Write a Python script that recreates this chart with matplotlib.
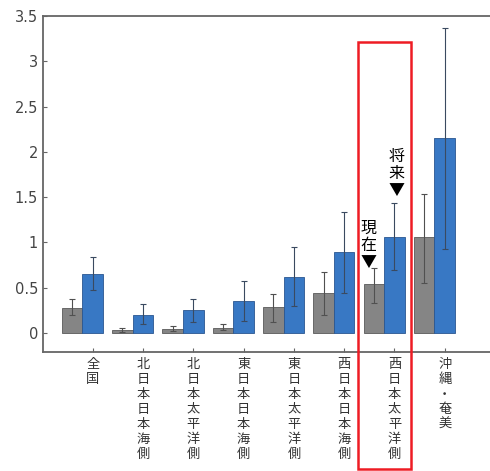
import matplotlib
matplotlib.use('Agg')
import matplotlib.pyplot as plt
import matplotlib.patches as patches
import numpy as np

plt.rcParams['font.family'] = ['Noto Sans CJK JP', 'DejaVu Sans']

# 地域
regions = ['全国', '北日本日本海側', '北日本太平洋側', '東日本日本海側',
           '東日本太平洋側', '西日本日本海側', '西日本太平洋側', '沖縄・奄美']

# 現在（灰）と将来（青）の値とエラーバー範囲
now_val = [0.28, 0.03, 0.045, 0.06, 0.29, 0.44, 0.54, 1.06]
now_low = [0.20, 0.01, 0.02, 0.03, 0.125, 0.20, 0.33, 0.55]
now_high = [0.375, 0.05, 0.08, 0.10, 0.43, 0.67, 0.72, 1.54]

fut_val = [0.65, 0.20, 0.25, 0.35, 0.62, 0.89, 1.06, 2.15]
fut_low = [0.47, 0.10, 0.12, 0.13, 0.30, 0.44, 0.69, 0.93]
fut_high = [0.84, 0.32, 0.38, 0.57, 0.95, 1.34, 1.44, 3.37]

yticks = [0, 0.5, 1, 1.5, 2, 2.5, 3, 3.5]
ytick_labels = ['0', '0.5', '1', '1.5', '2', '2.5', '3', '3.5']

x = np.arange(len(regions))
w = 0.41

fig = plt.figure(figsize=(4.9, 4.71), dpi=100)
ax = fig.add_axes([43 / 490, 1 - 352 / 471, 1 - 43 / 490, (352 - 16) / 471])

now_val = np.array(now_val)
fut_val = np.array(fut_val)
now_err = [now_val - np.array(now_low), np.array(now_high) - now_val]
fut_err = [fut_val - np.array(fut_low), np.array(fut_high) - fut_val]

ax.bar(x - w, now_val, width=w, color='#858585', edgecolor='#5a5a5a', linewidth=0.6,
       yerr=now_err, error_kw=dict(ecolor='#505050', elinewidth=0.8, capsize=2, capthick=0.8))
ax.bar(x, fut_val, width=w, color='#3878c4', edgecolor='#2a5690', linewidth=0.6,
       yerr=fut_err, error_kw=dict(ecolor='#3a4a60', elinewidth=0.8, capsize=2, capthick=0.8))

ax.set_xlim(-0.99, 7.9)
ax.set_ylim(-0.21, 3.5)

ax.set_yticks(yticks)
ax.set_yticklabels(ytick_labels, fontsize=10.5, color='#444444', family=['DejaVu Sans'])
ax.set_xticks(x)
ax.set_xticklabels(['\n'.join(r) for r in regions], fontsize=9.5, color='#333333',
                   va='top', linespacing=1.2)
ax.tick_params(axis='both', direction='in', length=3, color='#666666', width=0.8)
ax.tick_params(axis='x', pad=4)

for s in ['left', 'top', 'bottom']:
    ax.spines[s].set_color('#666666')
    ax.spines[s].set_linewidth(1.3)
ax.spines['right'].set_visible(False)

# 注記
ax.text(5.48, 1.25, '現\n在\n▼', ha='center', va='top', fontsize=11.5, linespacing=1.0,
        color='black')
ax.text(6.04, 2.04, '将\n来\n▼', ha='center', va='top', fontsize=11.5, linespacing=1.0,
        color='black')

rect = patches.Rectangle((5.28, -1.50), 1.04, 3.215 + 1.50, fill=False,
                         edgecolor='#ee1c24', linewidth=1.8, clip_on=False, zorder=5)
ax.add_patch(rect)

fig.savefig('out.png', dpi=100)
